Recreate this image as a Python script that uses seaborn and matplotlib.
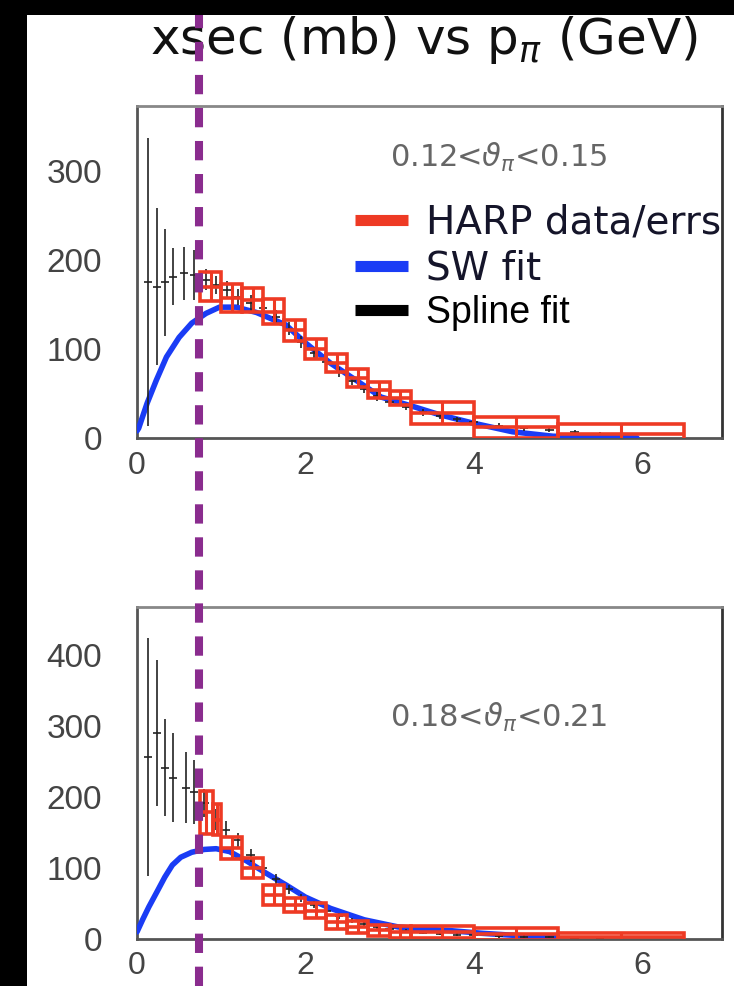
import numpy as np
import pandas as pd
import seaborn as sns
import matplotlib
matplotlib.use("Agg")
import matplotlib.pyplot as plt
from matplotlib.patches import Rectangle
from matplotlib.lines import Line2D
from matplotlib.transforms import blended_transform_factory

# ---------------- data ----------------
title_text = r"xsec (mb) vs p$_{\pi}$ (GeV)"
legend_labels = ["HARP data/errs", "SW fit", "Spline fit"]
cut_momentum = 0.74  # GeV, purple dashed line

# top panel: 0.12 < theta < 0.15
top_label = r"0.12<$\vartheta_{\pi}$<0.15"
top_harp_lo = [0.75, 1.0, 1.25, 1.5, 1.75, 2.0, 2.25, 2.5, 2.75, 3.0, 3.25, 4.0, 5.0]
top_harp_hi = [1.0, 1.25, 1.5, 1.75, 2.0, 2.25, 2.5, 2.75, 3.0, 3.25, 4.0, 5.0, 6.5]
top_harp_y = [170, 157, 155, 142, 121, 100, 84, 67, 54, 45, 28, 12, 5]
top_harp_err = [16, 16, 14, 14, 12, 11, 10, 10, 9, 8, 12, 12, 11]
top_spl_x = [0.13, 0.24, 0.33, 0.43, 0.56, 0.68, 0.82, 0.94, 1.07, 1.2, 1.35, 1.5, 1.65, 1.8,
             1.95, 2.1, 2.25, 2.4, 2.55, 2.7, 2.85, 3.0, 3.2, 3.4, 3.6, 3.8, 4.0, 4.3, 4.6,
             4.9, 5.2, 5.5]
top_spl_y = [175, 170, 175, 181, 185, 183, 178, 172, 166, 158, 152, 146, 136, 123, 108, 96,
             85, 74, 64, 55, 47, 41, 35, 29, 25, 21, 18, 14, 11, 9, 7, 5]
top_spl_err = [162, 88, 60, 32, 30, 28, 12, 10, 10, 9, 9, 8, 8, 7, 7, 6, 6, 6, 5, 5, 5, 4,
               4, 4, 4, 3, 3, 3, 3, 2, 2, 2]
top_sw_x = [0.0, 0.02, 0.12, 0.23, 0.35, 0.5, 0.65, 0.82, 0.98, 1.18, 1.42, 1.77, 2.0, 2.3,
            2.6, 2.9, 3.26, 3.6, 3.98, 4.46, 4.94, 5.45, 5.94]
top_sw_y = [8, 11, 39, 65, 91, 113, 129, 140, 147, 147, 141, 127, 107, 84, 65, 46, 36, 26,
            17, 7, 2, 1, 0]
top_yticks = [0, 100, 200, 300]
top_ymax = 373

# bottom panel: 0.18 < theta < 0.21
bot_label = r"0.18<$\vartheta_{\pi}$<0.21"
bot_harp_lo = [0.75, 0.9, 1.0, 1.25, 1.5, 1.75, 2.0, 2.25, 2.5, 2.75, 3.0, 3.25, 4.0, 5.0]
bot_harp_hi = [0.9, 1.0, 1.25, 1.5, 1.75, 2.0, 2.25, 2.5, 2.75, 3.0, 3.25, 4.0, 5.0, 6.5]
bot_harp_y = [178, 168, 128, 100, 62, 48, 40, 24, 17, 12, 10, 10, 7, 3]
bot_harp_err = [30, 22, 15, 14, 14, 10, 10, 10, 8, 8, 8, 8, 8, 6]
bot_spl_x = [0.13, 0.24, 0.33, 0.43, 0.58, 0.68, 0.8, 0.94, 1.06, 1.2, 1.35, 1.5, 1.65, 1.8,
             1.95, 2.1, 2.25, 2.4, 2.55, 2.7, 2.85, 3.0, 3.2, 3.4, 3.6, 3.8, 4.0, 4.3, 4.6,
             4.9, 5.2, 5.5]
bot_spl_y = [256, 290, 241, 227, 213, 207, 191, 168, 154, 139, 118, 100, 84, 70, 58, 48, 40,
             32, 26, 21, 17, 14, 11, 9, 7, 6, 5, 4, 3, 3, 2, 2]
bot_spl_err = [168, 103, 68, 63, 50, 45, 20, 15, 12, 10, 9, 8, 7, 6, 6, 5, 5, 4, 4, 3, 3, 3,
               3, 2, 2, 2, 2, 2, 2, 1, 1, 1]
bot_sw_x = [0.0, 0.07, 0.14, 0.24, 0.33, 0.42, 0.52, 0.65, 0.8, 0.94, 1.1, 1.3, 1.5, 1.77,
            2.0, 2.3, 2.7, 3.1, 3.4, 3.7, 4.1, 4.5, 5.0]
bot_sw_y = [10, 28, 45, 67, 87, 104, 115, 122, 126, 127, 123, 110, 95, 76, 59, 43, 27, 17,
            14, 12, 8, 5, 2]
bot_yticks = [0, 100, 200, 300, 400]
bot_ymax = 467

x_ticks = [0, 2, 4, 6]

# ---------------- style ----------------
RED = "#ee3a24"
BLUE = "#1a3cf5"
PURPLE = "#8a2c8e"
W, H = 734, 986

sns.set_style("white")
plt.rcParams['font.family'] = ['Liberation Sans', 'DejaVu Sans']

fig = plt.figure(figsize=(W / 100, H / 100), dpi=100)
fig.patch.set_facecolor("white")
fig.add_artist(Rectangle((0, 0), 27 / W, 1, transform=fig.transFigure,
                         facecolor="black", edgecolor="none", zorder=0))
fig.add_artist(Rectangle((0, 1 - 15 / H), 1, 15 / H, transform=fig.transFigure,
                         facecolor="black", edgecolor="none", zorder=0))

ax1 = fig.add_axes([137 / W, 1 - 438 / H, 585 / W, 332 / H])
ax2 = fig.add_axes([137 / W, 1 - 939 / H, 585 / W, 332 / H])


def draw_panel(ax, lo, hi, hy, he, bx, by, be, sx, sy, ymax, yticks, label, label_y):
    ax.set_facecolor("white")
    ax.set_xlim(0, 6.95)
    ax.set_ylim(0, ymax)
    sw = pd.DataFrame({"p": sx, "xsec": sy})
    sns.lineplot(data=sw, x="p", y="xsec", ax=ax, color=BLUE, lw=4, zorder=3)
    ax.errorbar(bx, by, yerr=be, xerr=0.05, fmt="none", ecolor="#222222",
                elinewidth=1.2, zorder=4)
    for l, h, y, e in zip(lo, hi, hy, he):
        ax.add_patch(Rectangle((l, y - e), h - l, 2 * e, fill=False,
                               edgecolor=RED, lw=2.6, zorder=5))
        ax.hlines(y, l, h, color=RED, lw=2.6, zorder=5)
        ax.vlines((l + h) / 2, y - e, y + e, color=RED, lw=2.2, zorder=5)
    ax.set_xlabel("")
    ax.set_ylabel("")
    ax.set_xticks(x_ticks)
    ax.set_xticks(np.arange(0, 7, 0.5), minor=True)
    ax.set_yticks(yticks)
    ax.set_yticks(np.arange(0, ymax, 20), minor=True)
    ax.tick_params(axis="both", which="both", direction="in", color="#333333",
                   labelcolor="#444444", labelsize=24)
    ax.tick_params(axis="y", which="major", length=14, width=1.5, pad=25)
    ax.tick_params(axis="y", which="minor", length=10, width=1.2)
    ax.tick_params(axis="x", which="major", length=14, width=1.5, pad=9,
                   labelsize=23)
    ax.tick_params(axis="x", which="minor", length=8, width=1.2)
    for s in ax.spines.values():
        s.set_visible(True)
        s.set_linewidth(2)
    ax.spines["left"].set_color("#555555")
    ax.spines["bottom"].set_color("#555555")
    ax.spines["top"].set_color("#888888")
    ax.spines["right"].set_color("#333333")
    ax.text(0.432, label_y, label, transform=ax.transAxes, fontsize=22,
            color="#666666", family="DejaVu Sans", va="center", ha="left")


draw_panel(ax1, top_harp_lo, top_harp_hi, top_harp_y, top_harp_err,
           top_spl_x, top_spl_y, top_spl_err, top_sw_x, top_sw_y,
           top_ymax, top_yticks, top_label, 0.846)
draw_panel(ax2, bot_harp_lo, bot_harp_hi, bot_harp_y, bot_harp_err,
           bot_spl_x, bot_spl_y, bot_spl_err, bot_sw_x, bot_sw_y,
           bot_ymax, bot_yticks, bot_label, 0.666)

# legend
handles = [Line2D([], [], color=RED, lw=8, solid_capstyle="butt"),
           Line2D([], [], color=BLUE, lw=8, solid_capstyle="butt"),
           Line2D([], [], color="black", lw=8, solid_capstyle="butt")]
leg = ax1.legend(handles, legend_labels, loc="upper left", bbox_to_anchor=(0.373, 0.705),
                 frameon=False, borderpad=0, borderaxespad=0, handlelength=1.35,
                 handletextpad=0.46, labelspacing=0.2,
                 prop={"family": "DejaVu Sans", "size": 28})
texts = leg.get_texts()
texts[0].set_color("#15152a")
texts[1].set_color("#15152a")
texts[2].set_fontfamily("Liberation Sans")
texts[2].set_fontsize(27)
texts[2].set_color("black")

# title
fig.text(424 / W, 1 - 54 / H, title_text, ha="center", va="baseline",
         fontsize=36, family="DejaVu Sans", color="#111111")

# purple dashed cut line spanning the whole page
tr = blended_transform_factory(ax1.transData, fig.transFigure)
fig.add_artist(Line2D([cut_momentum, cut_momentum], [0, 1 - 15 / H], transform=tr,
                      color=PURPLE, lw=5.8, linestyle=(0, (2.4, 1.7)),
                      solid_capstyle="butt", dash_capstyle="butt", zorder=20))

fig.savefig("out.png", dpi=100, facecolor="white")
